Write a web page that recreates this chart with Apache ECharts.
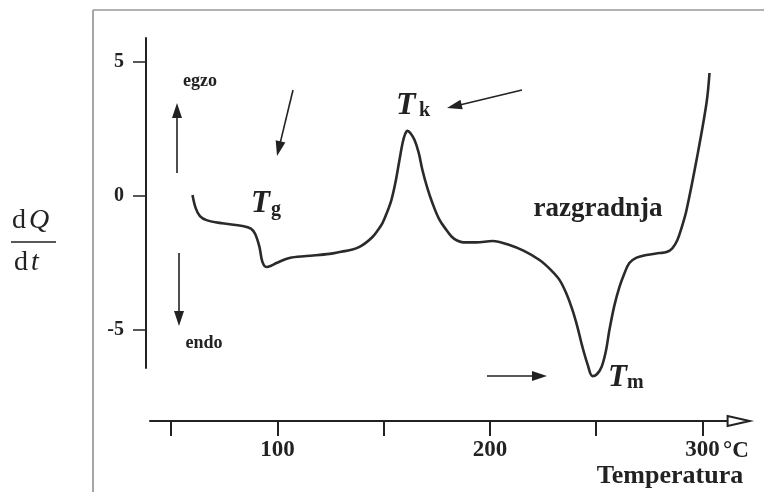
<!DOCTYPE html>
<html>
<head>
<meta charset="utf-8">
<script src="https://cdn.jsdelivr.net/npm/echarts@6/dist/echarts.min.js"></script>
<style>
html, body { margin: 0; padding: 0; background: #fff; }
#main { width: 764px; height: 492px; }
</style>
</head>
<body>
<div id="main"></div>
<script>
// temperatura (°C) i toplinski tok dQ/dt
var temps = [60, 61.5, 63.5, 66.6, 74, 83.5, 87.5, 89.5, 91.5, 92.9, 94.8, 97, 99.5, 105.6, 113.6,
	124.5, 130, 135.3, 138.6, 141.5, 144.7, 147, 149.4, 151.5, 153.6, 155.5, 157.3, 158.8, 160, 161.2,
	162.5, 164.5, 166.5, 168.2, 170.5, 172.9, 176, 179.5, 182, 184.5, 187.5, 193.6, 201.2, 209.2, 216,
	223.3, 228.5, 232.7, 236, 238.8, 241.2, 243.5, 246, 248.2, 250.3, 252.5, 254.5, 256.2, 258.5, 260.9,
	263.2, 265.6, 269, 273.6, 279.8, 283.1, 285.8, 288.2, 290.3, 292.5, 297.2, 301.9, 303.3];
var heat = [0.04, -0.45, -0.75, -0.9, -1.02, -1.12, -1.22, -1.42, -1.9, -2.46, -2.65, -2.6, -2.5, -2.31, -2.24,
	-2.16, -2.08, -2.0, -1.9, -1.75, -1.53, -1.3, -1.01, -0.62, -0.15, 0.5, 1.3, 1.95, 2.3, 2.43,
	2.35, 2.09, 1.6, 0.97, 0.3, -0.26, -0.85, -1.27, -1.52, -1.66, -1.73, -1.73, -1.68, -1.83, -2.05,
	-2.39, -2.75, -3.13, -3.65, -4.25, -4.9, -5.63, -6.3, -6.72, -6.65, -6.38, -5.8, -5.0, -4.1, -3.4,
	-2.9, -2.5, -2.3, -2.2, -2.13, -2.09, -1.95, -1.64, -1.15, -0.52, 1.34, 3.47, 4.59];
var xTicks = [50, 100, 150, 200, 250, 300];
var xLabels = [100, 200, 300];
var yLabels = [-5, 0, 5];

var serif = 'Liberation Serif';
var ink = '#222';

var points = [];
for (var i = 0; i < temps.length; i++) {
	points.push([temps[i], heat[i]]);
}

// strelica: linija + glava
function arrow(x1, y1, x2, y2) {
	var dx = x2 - x1, dy = y2 - y1;
	var L = Math.sqrt(dx * dx + dy * dy);
	var ux = dx / L, uy = dy / L;
	var hl = 15, hw = 5;
	var bx = x2 - ux * hl, by = y2 - uy * hl;
	return [
		{ type: 'line', shape: { x1: x1, y1: y1, x2: bx + ux * 2, y2: by + uy * 2 }, style: { stroke: ink, lineWidth: 1.6 } },
		{ type: 'polygon', shape: { points: [[x2, y2], [bx - uy * hw, by + ux * hw], [bx + uy * hw, by - ux * hw]] }, style: { fill: ink } }
	];
}

function txt(x, y, text, size, weight, style, align) {
	return {
		type: 'text', x: x, y: y,
		style: {
			text: text, fill: ink, font: (style || 'normal') + ' ' + (weight || 'normal') + ' ' + size + 'px "' + serif + '"',
			textAlign: align || 'left', textVerticalAlign: 'middle'
		}
	};
}

var fracRich = {
	a: { font: '28px "' + serif + '"', fill: ink },
	b: { font: 'italic 28px "' + serif + '"', fill: ink, padding: [0, 0, 0, 3] }
};

var gfx = [
	// okvir
	{ type: 'line', shape: { x1: 93, y1: 10, x2: 93, y2: 492 }, style: { stroke: '#888', lineWidth: 1.5 } },
	{ type: 'line', shape: { x1: 93, y1: 10, x2: 764, y2: 10 }, style: { stroke: '#999', lineWidth: 1.5 } },
	// dQ/dt
	{ type: 'text', x: 12, y: 221, style: { text: '{a|d}{b|Q}', rich: fracRich, textVerticalAlign: 'middle' } },
	{ type: 'line', shape: { x1: 11, y1: 242, x2: 56, y2: 242 }, style: { stroke: ink, lineWidth: 1.5 } },
	{ type: 'text', x: 14, y: 263, style: { text: '{a|d}{b|t}', rich: fracRich, textVerticalAlign: 'middle' } },
	txt(200, 81, 'egzo', 18, 'bold', null, 'center'),
	txt(204, 343, 'endo', 18, 'bold', null, 'center'),
	txt(251, 204, 'T', 31, 'bold', 'italic'),
	txt(271, 210, 'g', 20, 'bold'),
	txt(396, 106, 'T', 32, 'bold', 'italic'),
	txt(419, 111, 'k', 20, 'bold'),
	txt(608, 378, 'T', 31, 'bold', 'italic'),
	txt(627, 383, 'm', 20, 'bold'),
	txt(598, 209, 'razgradnja', 27, 'bold', null, 'center'),
	txt(723, 451, '°C', 23, 'bold'),
	txt(670, 476, 'Temperatura', 26, 'bold', null, 'center')
];
gfx = gfx.concat(arrow(177, 173, 177, 103));
gfx = gfx.concat(arrow(179, 253, 179, 326));
gfx = gfx.concat(arrow(293, 90, 277, 156));
gfx = gfx.concat(arrow(522, 90, 447, 108));
gfx = gfx.concat(arrow(487, 376, 547, 376));

var myChart = echarts.init(document.getElementById('main'));
var option = {
	backgroundColor: '#fff',
	animation: false,
	grid: [
		{ left: 150, right: 25.4, top: 38, height: 330 },
		{ left: 150, right: 25.4, top: 420, height: 1 }
	],
	xAxis: [
		{ type: 'value', gridIndex: 0, min: 40, max: 317, show: false },
		{
			type: 'value', gridIndex: 1, min: 40, max: 317,
			axisLine: { show: true, symbol: ['none', 'emptyTriangle'], symbolSize: [10, 22], lineStyle: { color: ink, width: 2 } },
			axisTick: { show: true, customValues: xTicks, length: 15, lineStyle: { color: ink, width: 2 } },
			axisLabel: {
				customValues: xLabels, margin: 18, color: ink,
				fontFamily: serif, fontWeight: 'bold', fontSize: 23
			},
			splitLine: { show: false }
		}
	],
	yAxis: [
		{
			type: 'value', gridIndex: 0, min: -6.418, max: 5.896, offset: 4,
			axisLine: { show: true, lineStyle: { color: ink, width: 2 } },
			axisTick: { show: true, customValues: yLabels, length: 13, lineStyle: { color: ink, width: 1.5 } },
			axisLabel: {
				customValues: yLabels, margin: 22, color: ink,
				fontFamily: serif, fontWeight: 'bold', fontSize: 20
			},
			splitLine: { show: false }
		},
		{ type: 'value', gridIndex: 1, min: 0, max: 1, show: false }
	],
	series: [
		{
			type: 'line',
			xAxisIndex: 0,
			yAxisIndex: 0,
			data: points,
			smooth: 0.35,
			clip: false,
			symbol: 'none',
			lineStyle: { color: '#2a2a2a', width: 2.6 }
		}
	],
	graphic: gfx
};
myChart.setOption(option);
</script>
</body>
</html>
